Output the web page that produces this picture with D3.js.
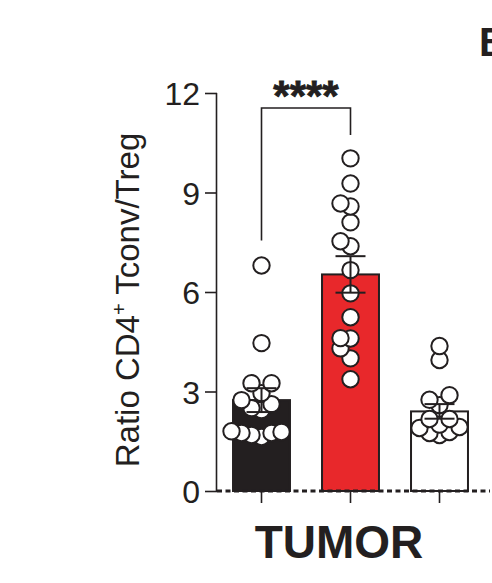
<!DOCTYPE html>
<html><head><meta charset="utf-8">
<script src="https://cdn.jsdelivr.net/npm/d3@7"></script>
<style>body{margin:0;background:#fff}</style>
</head><body>
<svg id="c" width="492" height="583"></svg>
<script>
// ---- data ----
const groups = ["g1", "g2", "g3"];
const groupFill = ["#231f20", "#e8282b", "#ffffff"];
const means = [2.74, 6.53, 2.40];
const sems = [0.36, 0.55, 0.22];
const pointsG1 = [6.8, 4.46, 3.25, 3.25, 2.95, 2.74, 2.62, 2.5, 2.44, 1.8, 1.78, 1.75, 1.75, 1.69, 1.63];
const pointsG2 = [10.03, 9.27, 8.67, 8.58, 8.1, 7.53, 7.38, 6.66, 5.96, 5.24, 4.61, 4.6, 4.3, 4.0, 3.37];
const pointsG3 = [4.37, 3.95, 2.89, 2.75, 2.59, 2.17, 2.17, 2.0, 1.93, 1.9, 1.78, 1.75, 1.69];
const yTicks = [0, 3, 6, 9, 12];
const xLabel = "TUMOR";
const significance = "****";
const panelLetter = "B";

const svg = d3.select("#c");
const font = "'Liberation Sans', Arial, sans-serif";

const y = d3.scaleLinear().domain([0, 12]).range([491, 93]);
const x = d3.scaleBand().domain(groups).range([217, 484]).paddingInner(0.36).paddingOuter(0.18);

// bars
svg.selectAll("rect.bar").data(groups).join("rect")
  .attr("x", d => x(d)).attr("width", x.bandwidth())
  .attr("y", (d, i) => y(means[i])).attr("height", (d, i) => y(0) - y(means[i]))
  .attr("fill", (d, i) => groupFill[i]).attr("stroke", "#231f20").attr("stroke-width", 2);

// beeswarm layout (deterministic collision placement)
const r = 8.2, step = 10, minD = 10;
function swarm(vals, cx) {
  const placed = [];
  const sorted = vals.slice().sort((a, b) => a - b);
  sorted.forEach(v => {
    const py = y(v);
    for (let k = 0; k < 40; k++) {
      const s = k === 0 ? 0 : (k % 2 ? -Math.ceil(k / 2) : Math.ceil(k / 2));
      const px = cx + s * step;
      if (placed.every(p => Math.hypot(p.x - px, p.y - py) >= minD)) { placed.push({x: px, y: py}); break; }
    }
  });
  return placed;
}
const allPts = [pointsG1, pointsG2, pointsG3];
allPts.forEach((vals, i) => {
  const cx = x(groups[i]) + x.bandwidth() / 2;
  svg.append("g").selectAll("circle").data(swarm(vals, cx)).join("circle")
    .attr("cx", d => d.x).attr("cy", d => d.y).attr("r", r)
    .attr("fill", "#fff").attr("stroke", "#231f20").attr("stroke-width", 2);
});

// error bars
groups.forEach((g, i) => {
  const cx = x(g) + x.bandwidth() / 2;
  const e = svg.append("g").attr("stroke", "#231f20").attr("stroke-width", 2);
  e.append("line").attr("x1", cx).attr("x2", cx).attr("y1", y(means[i] - sems[i])).attr("y2", y(means[i] + sems[i]));
  [means[i] - sems[i], means[i] + sems[i]].forEach(v =>
    e.append("line").attr("x1", cx - 15).attr("x2", cx + 15).attr("y1", y(v)).attr("y2", y(v)));
});

// y axis
const yAxis = svg.append("g").attr("transform", "translate(217,0)")
  .call(d3.axisLeft(y).tickValues(yTicks).tickSize(12).tickPadding(5));
yAxis.select(".domain").attr("stroke", "#231f20").attr("stroke-width", 1.6).attr("d", `M-0.5,${y(12)}V${y(0)}`);
yAxis.selectAll(".tick line").attr("stroke", "#231f20").attr("stroke-width", 1.6);
yAxis.selectAll(".tick text").attr("font-family", font).attr("font-size", 32).attr("fill", "#231f20").attr("dy", "0.36em");

// dashed zero line
svg.append("line").attr("x1", 217).attr("x2", 490).attr("y1", y(0)).attr("y2", y(0))
  .attr("stroke", "#231f20").attr("stroke-width", 2.8).attr("stroke-dasharray", "5,3.5");

// x ticks
groups.forEach(g => {
  const cx = x(g) + x.bandwidth() / 2;
  svg.append("line").attr("x1", cx).attr("x2", cx).attr("y1", y(0)).attr("y2", y(0) + 12)
    .attr("stroke", "#231f20").attr("stroke-width", 1.6);
});

// x label
svg.append("text").attr("x", 339).attr("y", 558).attr("text-anchor", "middle")
  .attr("font-family", font).attr("font-weight", "bold").attr("font-size", 46).attr("fill", "#231f20").text(xLabel);

// y label
const yl = svg.append("text").attr("transform", "translate(139,300) rotate(-90)").attr("text-anchor", "middle")
  .attr("font-family", font).attr("font-size", 33).attr("fill", "#231f20");
yl.append("tspan").text("Ratio CD4");
yl.append("tspan").attr("font-size", 20).attr("dy", -13).text("+");
yl.append("tspan").attr("dy", 13).text(" Tconv/Treg");

// significance bracket
const c1 = x(groups[0]) + x.bandwidth() / 2, c2 = x(groups[1]) + x.bandwidth() / 2;
svg.append("path").attr("d", `M${c1},${y(7.55)}V108H${c2}V135`).attr("fill", "none")
  .attr("stroke", "#231f20").attr("stroke-width", 1.6);
svg.append("text").attr("x", (c1 + c2) / 2).attr("y", 110).attr("text-anchor", "middle")
  .attr("font-family", font).attr("font-weight", "bold").attr("font-size", 42).attr("fill", "#231f20")
  .attr("stroke", "#231f20").attr("stroke-width", 0.8).text(significance);

// panel letter
svg.append("text").attr("x", 479).attr("y", 56).attr("font-family", font).attr("font-weight", "bold")
  .attr("font-size", 40).attr("fill", "#231f20").text(panelLetter);
</script>
</body></html>
